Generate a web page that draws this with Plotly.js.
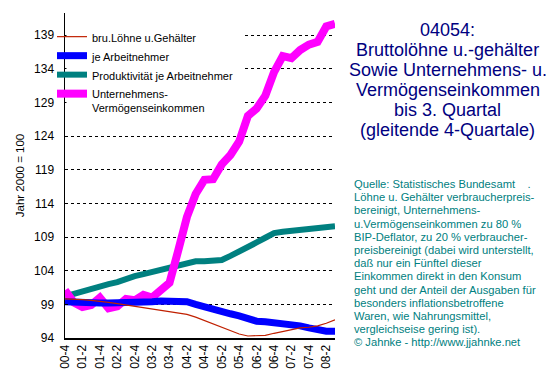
<!DOCTYPE html>
<html>
<head>
<meta charset="utf-8">
<script src="https://cdn.plot.ly/plotly-3.0.1.min.js"></script>
<style>html,body{margin:0;padding:0;background:#fff;}#chart{width:553px;height:376px;}</style>
</head>
<body>
<div id="chart"></div>
<script>
// ---- data ----
const quarters = ['00-4','01-1','01-2','01-3','01-4','02-1','02-2','02-3','02-4','03-1','03-2','03-3','03-4','04-1','04-2','04-3','04-4','05-1','05-2','05-3','05-4','06-1','06-2','06-3','06-4','07-1','07-2','07-3','07-4','08-1','08-2','08-3'];
const tickLabels = ['00-4','01-2','01-4','02-2','02-4','03-2','03-4','04-2','04-4','05-2','05-4','06-2','06-4','07-2','07-4','08-2'];
const grossWages = [99.8,99.8,99.7,99.6,99.5,99.3,99.1,98.9,98.7,98.5,98.3,98.1,97.8,97.7,97.5,97.1,96.6,96.0,95.5,95.0,94.6,94.3,94.3,94.4,94.7,95.0,95.3,95.5,95.6,95.8,96.2,96.7];
const perEmployee = [99.4,99.3,99.3,99.3,99.2,99.2,99.2,99.2,99.3,99.4,99.4,99.5,99.5,99.5,99.4,99.0,98.6,98.2,97.9,97.6,97.3,96.9,96.5,96.4,96.3,96.2,96.0,95.8,95.5,95.2,95.0,95.0];
const productivity = [100.2,100.6,101.0,101.3,101.7,102.0,102.3,102.8,103.2,103.5,103.8,104.1,104.5,104.8,105.2,105.4,105.4,105.5,105.6,106.2,106.8,107.5,108.2,108.9,109.6,109.8,109.9,110.0,110.2,110.4,110.5,110.6];
const capitalIncome = [101.1,99.3,98.6,98.9,100.0,98.4,98.7,99.8,99.6,100.4,100.0,101.0,102.2,107.0,112.0,115.4,117.5,117.6,119.8,121.2,123.2,127.0,128.1,130.0,133.5,135.9,135.6,136.8,137.6,138.0,140.3,140.7];
const seriesNames = ['bru.Löhne u.Gehälter','je Arbeitnehmer','Produktivität je Arbeitnehmer','Unternehmens-<br>Vermögenseinkommen'];
const yTitle = 'Jahr 2000 = 100';
const titleLines = ['04054:','Bruttolöhne u.-gehälter','Sowie Unternehmens- u.','Vermögenseinkommen','bis 3. Quartal','(gleitende 4-Quartale)'];
const sourceLines = ['Quelle: Statistisches Bundesamt\u00a0\u00a0\u00a0\u00a0.','Löhne u. Gehälter verbraucherpreis-','bereinigt, Unternehmens-','u.Vermögenseinkommen zu 80 %','BIP-Deflator, zu 20 % verbraucher-','preisbereinigt (dabei wird unterstellt,','daß nur ein Fünftel dieser','Einkommen direkt in den Konsum','geht und der Anteil der Ausgaben für','besonders inflationsbetroffene','Waren, wie Nahrungsmittel,','vergleichseise gering ist).','© Jahnke - http://www.jjahnke.net'];

// ---- layout helpers ----
const FONT = 'Arial, "Liberation Sans", sans-serif';
const W = 553, H = 376;
const M = {l:65, r:218, t:13, b:38};
const PW = W - M.l - M.r, PH = H - M.t - M.b;
const px = v => (v - M.l) / PW;
const py = v => 1 - (v - M.t) / PH;

const traces = [
  {x: quarters, y: productivity, name: seriesNames[2], legendrank: 3, type:'scatter', mode:'lines', line:{color:'#008080', width:6}, cliponaxis:false},
  {x: quarters, y: capitalIncome, name: seriesNames[3], legendrank: 4, type:'scatter', mode:'lines', line:{color:'#ff00ff', width:8}, cliponaxis:false},
  {x: quarters, y: perEmployee, name: seriesNames[1], legendrank: 2, type:'scatter', mode:'lines', line:{color:'#0000ff', width:7}, cliponaxis:false},
  {x: quarters, y: grossWages, name: seriesNames[0], legendrank: 1, type:'scatter', mode:'lines', line:{color:'#c02000', width:1.2}, cliponaxis:false}
];

const annotations = [];
titleLines.forEach((t, k) => annotations.push({
  text: t, xref:'paper', yref:'paper', x: px(447.5), y: py(30 + 20*k),
  xanchor:'center', yanchor:'middle', showarrow:false,
  font:{family:FONT, size:18, color:'#000080'}
}));
sourceLines.forEach((t, k) => annotations.push({
  text: t, xref:'paper', yref:'paper', x: px(352), y: py(184 + 13.2*k),
  xanchor:'left', yanchor:'middle', showarrow:false,
  font:{family:FONT, size:11.2, color:'#008080'}
}));

const layout = {
  width: W, height: H,
  margin: {l:M.l, r:M.r, t:M.t, b:M.b, pad:0},
  paper_bgcolor:'#fff', plot_bgcolor:'#fff',
  font:{family:FONT, size:12, color:'#000'},
  showlegend: true,
  legend: {x: px(52), y: py(23), xanchor:'left', yanchor:'top', bgcolor:'rgba(0,0,0,0)',
           font:{family:FONT, size:11, color:'#000'}, itemwidth:30, valign:'top', traceorder:'normal'},
  xaxis: {type:'category', categoryorder:'array', categoryarray: quarters, range:[0, quarters.length-1],
          tickmode:'array', tickvals: tickLabels, ticktext: tickLabels, tickangle:-90,
          ticks:'', showgrid:false, zeroline:false, showline:true, linecolor:'#000', linewidth:2,
          tickfont:{family:FONT, size:12, color:'#000'}, fixedrange:true},
  yaxis: {range:[94, 142.3], tickmode:'linear', tick0:94, dtick:5,
          showgrid:true, gridcolor:'#000', gridwidth:1, griddash:'3px,3px',
          zeroline:false, showline:true, linecolor:'#000', linewidth:1.5,
          ticks:'inside', ticklen:3, tickcolor:'#000', tickwidth:1, ticklabelstandoff:7,
          tickfont:{family:FONT, size:12, color:'#000'},
          title:{text: yTitle, font:{family:FONT, size:11.5, color:'#000'}, standoff:7}, fixedrange:true},
  shapes: [{type:'rect', xref:'paper', yref:'paper', x0: px(66.5), x1: px(244), y0: py(14), y1: py(110),
            fillcolor:'#fff', line:{width:0}, layer:'above'}],
  annotations: annotations
};

Plotly.newPlot('chart', traces, layout, {staticPlot:true, displayModeBar:false});
</script>
</body>
</html>
